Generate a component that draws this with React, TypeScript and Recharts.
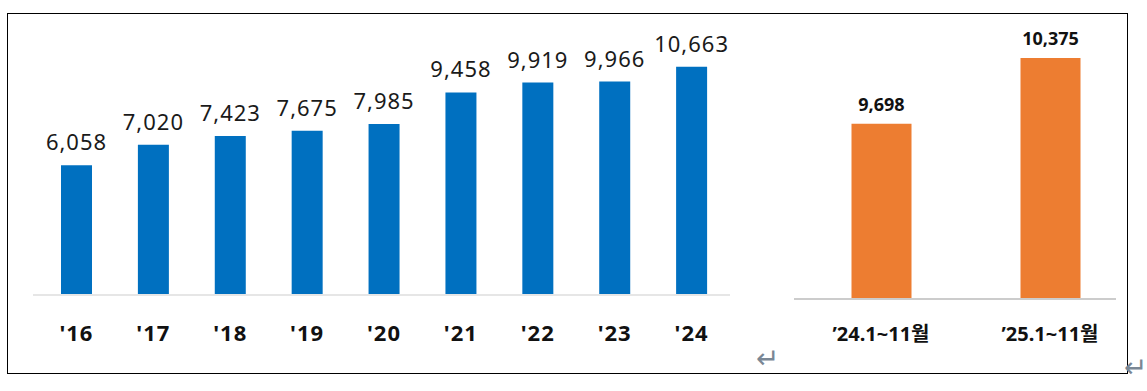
import React from "react";
import { BarChart, Bar, XAxis, YAxis, LabelList } from "recharts";

const yearLabels = ["'16", "'17", "'18", "'19", "'20", "'21", "'22", "'23", "'24"];
const yearValues = [6058, 7020, 7423, 7675, 7985, 9458, 9919, 9966, 10663];

const periodLabels = ["\u201924.1~11\uC6D4", "\u201925.1~11\uC6D4"];
const periodValues = [9698, 10375];

const leftData = yearLabels.map((name, i) => ({ name, value: yearValues[i] }));
const rightData = periodLabels.map((name, i) => ({ name, value: periodValues[i] }));

const FONT = "'Noto Sans', 'Noto Sans CJK KR', sans-serif";
const fmt = (v: any) => Number(v).toLocaleString("en-US");

export default function App() {
  return (
    <div style={{ position: "absolute", left: 0, top: 0, width: 1147, height: 391, background: "#fff", fontFamily: FONT }}>
      <div style={{ position: "absolute", left: 7, top: 13, width: 1119, height: 359, border: "1px solid #000" }} />
      <div style={{ position: "absolute", left: 0, top: 0 }}>
        <BarChart width={760} height={391} data={leftData} margin={{ top: 38, right: 30, bottom: 66, left: 33 }}>
          <XAxis
            dataKey="name"
            height={30}
            padding={{ left: 5, right: 0 }}
            axisLine={{ stroke: "#e6e6e6", strokeWidth: 2 }}
            tickLine={false}
            tickSize={0}
            tickMargin={30}
            tick={{ fill: "#111", fontSize: 22, fontWeight: 700, fontFamily: FONT, letterSpacing: 1 }}
            interval={0}
          />
          <YAxis hide domain={[0, 12000]} />
          <Bar dataKey="value" fill="#0070C0" barSize={31} isAnimationActive={false}>
            <LabelList dataKey="value" position="top" offset={15} formatter={fmt} fill="#1a1a1a" fontSize={22} fontFamily={FONT} style={{ letterSpacing: 1 }} />
          </Bar>
        </BarChart>
      </div>
      <div style={{ position: "absolute", left: 760, top: 0 }}>
        <BarChart width={387} height={391} data={rightData} margin={{ top: 36, right: 31, bottom: 62, left: 34 }}>
          <XAxis
            dataKey="name"
            height={30}
            padding={{ left: 2.5, right: -18.5 }}
            axisLine={{ stroke: "#cccccc", strokeWidth: 2 }}
            tickLine={false}
            tickSize={0}
            tickMargin={28}
            tick={{ fill: "#111", fontSize: 20, fontWeight: 700, fontFamily: FONT }}
            interval={0}
          />
          <YAxis hide domain={[7900, 10600]} allowDataOverflow />
          <Bar dataKey="value" fill="#ED7D31" barSize={60} isAnimationActive={false}>
            <LabelList dataKey="value" position="top" offset={13} formatter={fmt} fill="#111" fontSize={18} fontWeight={700} fontFamily={FONT} />
          </Bar>
        </BarChart>
      </div>
      <span style={{ position: "absolute", left: 756, top: 343, fontSize: 28, color: "#7a8795", lineHeight: "32px", fontFamily: "'DejaVu Sans', sans-serif" }}>↵</span>
      <span style={{ position: "absolute", left: 1124, top: 352, fontSize: 28, color: "#7a8795", lineHeight: "32px", fontFamily: "'DejaVu Sans', sans-serif" }}>↵</span>
    </div>
  );
}
